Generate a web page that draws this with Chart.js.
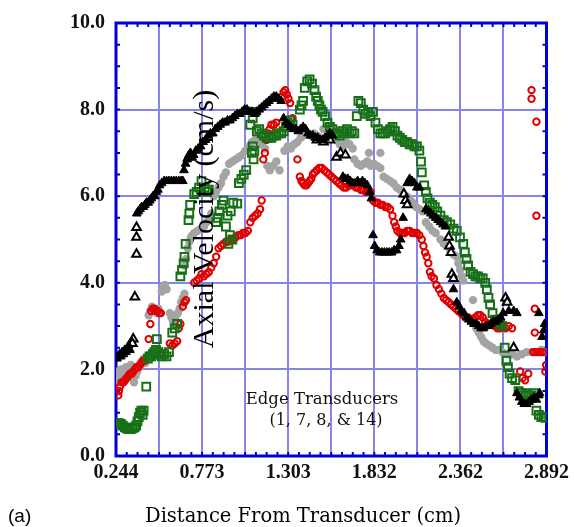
<!DOCTYPE html>
<html>
<head>
<meta charset="utf-8">
<script src="https://cdn.jsdelivr.net/npm/chart.js"></script>
<style>
  html, body { margin: 0; padding: 0; background: #fff; }
  #wrap { width: 574px; height: 527px; }
</style>
</head>
<body>
<div id="wrap"><canvas id="chart_velocity" width="574" height="527"></canvas></div>
<script>
/* axial velocity vs distance, edge transducers */

// tick positions / labels
var xGrid = [0.244, 0.5088, 0.7736, 1.0384, 1.3032, 1.568, 1.8328, 2.0976, 2.3624, 2.6272, 2.892];
var xTickLabels = ['0.244', '0.773', '1.303', '1.832', '2.362', '2.892'];

// black filled triangles
var blackX = [0.250, 0.258, 0.266, 0.274, 0.282, 0.290, 0.298, 0.306, 0.314, 0.322, 0.330,
  0.372, 0.382, 0.392, 0.402, 0.412, 0.422, 0.432, 0.442, 0.452, 0.462, 0.472, 0.482, 0.492, 0.502,
  0.512, 0.525, 0.540, 0.555, 0.570, 0.585, 0.600, 0.615, 0.630, 0.645, 0.655,
  0.662, 0.672, 0.682, 0.692, 0.702, 0.712, 0.722, 0.735, 0.750, 0.765, 0.780, 0.795, 0.810, 0.825,
  0.840, 0.855, 0.870, 0.885, 0.900, 0.915, 0.930, 0.945, 0.960, 0.975, 0.990, 1.005, 1.020, 1.035,
  1.050, 1.065, 1.080, 1.095, 1.110, 1.125, 1.140, 1.155, 1.170, 1.185, 1.200, 1.215, 1.230, 1.245, 1.260,
  1.275, 1.290, 1.305, 1.320, 1.335, 1.350, 1.365, 1.380, 1.395, 1.410, 1.425, 1.440, 1.455, 1.470,
  1.485, 1.500, 1.515, 1.530, 1.545, 1.560, 1.575,
  1.640, 1.655, 1.670, 1.685, 1.700, 1.715, 1.730, 1.745, 1.760, 1.775, 1.790, 1.805, 1.815,
  1.825, 1.835, 1.850, 1.865, 1.880, 1.895, 1.910, 1.925, 1.940, 1.955, 1.970, 1.985, 1.995, 2.010,
  2.035, 2.050, 2.065, 2.080, 2.095, 2.110,
  2.150, 2.165, 2.180, 2.195, 2.210, 2.225, 2.240, 2.255, 2.270,
  2.320, 2.340, 2.355, 2.370, 2.385, 2.400, 2.415, 2.430, 2.445, 2.460, 2.475, 2.490, 2.505, 2.520,
  2.535, 2.550, 2.565, 2.580, 2.595, 2.610, 2.625, 2.660, 2.690, 2.710,
  2.845, 2.865, 2.875, 2.880,
  2.710, 2.725, 2.740, 2.755, 2.770, 2.785, 2.800, 2.815, 2.830, 2.845, 2.850];
var blackY = [2.25, 2.30, 2.35, 2.30, 2.40, 2.35, 2.45, 2.40, 2.50, 2.55, 2.45,
  5.60, 5.65, 5.70, 5.75, 5.75, 5.80, 5.85, 5.85, 5.90, 5.95, 6.00, 6.00, 6.10, 6.15,
  6.25, 6.30, 6.35, 6.35, 6.35, 6.35, 6.35, 6.35, 6.35, 6.35, 6.35,
  6.60, 6.75, 6.85, 6.95, 7.00, 6.90, 6.95, 7.05, 7.10, 7.15, 7.25, 7.30, 7.40, 7.45,
  7.45, 7.55, 7.60, 7.65, 7.70, 7.70, 7.75, 7.75, 7.80, 7.85, 7.90, 7.90, 7.95, 8.00,
  8.00, 7.95, 7.95, 7.90, 7.95, 8.00, 8.05, 8.10, 8.15, 8.20, 8.25, 8.30, 8.30, 8.25, 8.20,
  7.80, 7.70, 7.65, 7.60, 7.55, 7.55, 7.50, 7.55, 7.60, 7.55, 7.45, 7.40, 7.40, 7.35,
  7.35, 7.30, 7.30, 7.35, 7.40, 7.45, 7.40,
  6.45, 6.40, 6.40, 6.35, 6.30, 6.30, 6.35, 6.30, 6.35, 6.30, 6.25, 6.10, 5.95,
  5.10, 4.85, 4.75, 4.70, 4.70, 4.70, 4.70, 4.70, 4.70, 4.75, 4.75, 4.85, 5.00, 5.50,
  6.30, 6.40, 6.35, 6.30, 6.20, 6.20,
  5.70, 5.65, 5.60, 5.55, 5.50, 5.45, 5.40, 5.35, 5.30,
  3.85, 3.55, 3.45, 3.35, 3.30, 3.20, 3.15, 3.10, 3.05, 3.05, 3.00, 2.95, 2.95, 3.00,
  3.00, 3.05, 3.10, 3.10, 3.15, 3.20, 3.30, 3.35, 3.35, 3.30,
  3.30, 2.75, 2.90, 3.05,
  1.45, 1.35, 1.25, 1.20, 1.20, 1.25, 1.30, 1.35, 1.30, 1.40, 1.45];

// black open triangles
var openX = [0.370, 0.360, 0.350, 0.345, 0.370, 0.370, 0.690, 1.480, 1.520, 1.560,
  1.600, 1.625, 1.655, 2.015, 2.025, 2.035, 2.290, 2.295, 2.305, 2.310, 2.320,
  2.640, 2.650, 2.690];
var openY = [4.66, 3.67, 2.70, 2.60, 5.05, 5.28, 6.90, 7.30, 7.25, 7.30,
  6.90, 7.00, 6.95, 6.05, 5.90, 5.80, 5.05, 4.85, 4.70, 4.20, 4.10,
  3.65, 3.55, 2.50];

// grey filled circles
var greyX = [0.250, 0.255, 0.265, 0.275, 0.285, 0.295, 0.305, 0.315, 0.325, 0.335, 0.345, 0.355,
  0.365, 0.375, 0.385, 0.395, 0.405, 0.415, 0.425,
  0.445, 0.455, 0.465, 0.475, 0.485, 0.495, 0.505, 0.525, 0.535, 0.545, 0.555,
  0.575, 0.585, 0.595, 0.605, 0.615, 0.625, 0.635, 0.645, 0.655, 0.665,
  0.665, 0.675, 0.685, 0.695, 0.705, 0.715, 0.725, 0.745, 0.765, 0.785, 0.800, 0.815, 0.830,
  0.845, 0.860, 0.875, 0.890, 0.905, 0.920, 0.940, 0.960, 0.980, 1.000, 1.020, 1.040, 1.060,
  1.080, 1.100, 1.120, 1.140, 1.160,
  1.175, 1.190, 1.210, 1.230, 1.250,
  1.280, 1.300, 1.320, 1.340, 1.360, 1.380, 1.400, 1.420, 1.440, 1.460, 1.480, 1.500,
  1.520, 1.540, 1.560,
  1.600, 1.620, 1.640, 1.660, 1.680, 1.700,
  1.710, 1.730, 1.750, 1.770, 1.790, 1.810, 1.830, 1.850, 1.870, 1.800, 1.870,
  1.890, 1.910, 1.930, 1.950, 1.970, 1.990, 2.010, 2.030, 2.050, 2.070, 2.090, 2.110, 2.130,
  2.150, 2.170, 2.190, 2.210, 2.240, 2.260, 2.280, 2.300, 2.320, 2.340, 2.350, 2.360, 2.370,
  2.380, 2.440,
  2.450, 2.460, 2.475, 2.490, 2.505, 2.520, 2.540, 2.560, 2.580, 2.600, 2.620, 2.650, 2.680,
  2.710, 2.740, 2.770, 2.800, 2.830, 2.860, 2.880];
var greyY = [1.70, 1.95, 1.80, 2.00, 1.75, 1.90, 2.05, 1.85, 1.95, 2.10, 1.80, 1.70,
  1.85, 1.95, 2.05, 2.10, 2.20, 2.25, 2.15,
  3.25, 3.35, 3.45, 3.40, 3.35, 3.30, 3.40, 3.80, 3.90, 3.95, 3.85,
  3.30, 3.20, 3.10, 3.15, 3.25, 3.30, 3.40, 3.55, 3.65, 3.75,
  4.40, 4.55, 4.80, 4.95, 5.05, 5.10, 5.15, 5.20, 5.25, 5.30, 5.40, 5.45, 5.60,
  6.00, 6.10, 6.20, 6.30, 6.45, 6.55, 6.75, 6.80, 6.85, 6.90, 6.95, 7.05, 7.15,
  7.25, 7.30, 7.30, 7.20, 7.10,
  6.70, 6.60, 6.70, 6.80, 6.60,
  7.05, 7.15, 7.10, 7.20, 7.25, 7.35, 7.40, 7.45, 7.40, 7.45, 7.40, 7.35,
  7.55, 7.60, 7.55,
  7.30, 7.20, 7.15, 7.25, 7.20, 7.10,
  6.85, 6.75, 6.70, 6.75, 6.80, 6.70, 6.75, 6.70, 6.65, 7.00, 7.00,
  6.45, 6.40, 6.35, 6.30, 6.20, 6.15, 6.05, 6.00, 5.95, 5.85, 5.75, 5.70, 5.65,
  5.40, 5.30, 5.20, 5.15, 5.00, 4.90, 4.85, 4.75, 4.65, 4.60, 4.45, 4.30, 4.15,
  4.05, 3.60,
  3.05, 2.95, 2.85, 2.75, 2.65, 2.60, 2.55, 2.50, 2.45, 2.45, 2.40, 2.35, 2.35,
  2.30, 2.35, 2.40, 2.40, 2.40, 2.45, 2.40];

// red open circles
var redX = [0.258, 0.262, 0.268, 0.278, 0.290, 0.300, 0.310, 0.320, 0.330, 0.340, 0.350, 0.360,
  0.370, 0.380, 0.390, 0.400, 0.410, 0.420,
  0.445, 0.455, 0.460, 0.470, 0.480, 0.490, 0.500, 0.510, 0.520,
  0.575, 0.590, 0.605, 0.620, 0.630, 0.640, 0.655, 0.665, 0.675,
  0.725, 0.740, 0.755, 0.770, 0.785, 0.800, 0.815, 0.830, 0.845, 0.860, 0.875, 0.890, 0.905,
  0.920, 0.935, 0.950, 0.965, 0.980, 0.995, 1.010, 1.025, 1.040, 1.055, 1.070, 1.085, 1.100,
  1.115, 1.130, 1.140,
  1.150, 1.160, 1.170, 1.180, 1.190, 1.200, 1.215, 1.230,
  1.265, 1.275, 1.285, 1.295, 1.305, 1.315, 1.330, 1.360,
  1.375, 1.385, 1.395, 1.405, 1.415, 1.425, 1.435, 1.445, 1.455, 1.465, 1.480, 1.495, 1.510,
  1.525, 1.540, 1.555, 1.570, 1.585, 1.600, 1.615, 1.630, 1.645, 1.660, 1.675, 1.690, 1.705,
  1.720, 1.735, 1.750, 1.765, 1.780, 1.795, 1.810,
  1.825, 1.840, 1.855, 1.870, 1.885, 1.900, 1.915, 1.930, 1.945, 1.955, 1.965, 1.975, 1.990,
  2.005, 2.020, 2.035, 2.050, 2.065, 2.080, 2.095, 2.110, 2.125, 2.135, 2.145, 2.155,
  2.165, 2.175, 2.185, 2.200, 2.215, 2.230, 2.245, 2.260, 2.275, 2.290, 2.305, 2.320, 2.335,
  2.350, 2.365, 2.380, 2.395, 2.410, 2.425, 2.440, 2.455, 2.470, 2.485, 2.500, 2.515, 2.530,
  2.545, 2.560, 2.575, 2.590, 2.605, 2.620, 2.640, 2.660, 2.680,
  2.730, 2.745, 2.760, 2.780,
  2.810, 2.825, 2.840, 2.855, 2.870, 2.885, 2.890, 2.820, 2.820,
  2.800, 2.800, 2.830, 2.830];
var redY = [1.40, 1.50, 1.60, 1.70, 1.70, 1.75, 1.80, 1.85, 1.90, 1.90, 1.95, 2.00,
  2.05, 2.05, 2.10, 2.15, 2.20, 2.20,
  2.70, 3.05, 3.35, 3.40, 3.40, 3.35, 3.35, 3.30, 3.30,
  2.60, 2.55, 2.60, 2.65, 2.95, 3.05, 3.45, 3.55, 3.60,
  4.00, 4.05, 4.10, 4.20, 4.15, 4.20, 4.25, 4.35, 4.45, 4.60, 4.80, 4.85, 4.90,
  4.95, 4.95, 5.00, 5.00, 5.05, 5.10, 5.10, 5.15, 5.15, 5.20, 5.40, 5.50, 5.55,
  5.60, 5.70, 5.90,
  6.85, 7.00, 7.30, 7.45, 7.55, 7.65, 7.65, 7.70,
  8.30, 8.40, 8.45, 8.35, 8.25, 8.15, 7.80, 6.85,
  6.45, 6.35, 6.30, 6.25, 6.25, 6.30, 6.35, 6.40, 6.50, 6.55, 6.60, 6.65, 6.65,
  6.60, 6.55, 6.50, 6.45, 6.40, 6.35, 6.30, 6.25, 6.20, 6.20, 6.25, 6.25, 6.25,
  6.20, 6.20, 6.15, 6.15, 6.10, 6.10, 6.10,
  5.90, 5.85, 5.85, 5.80, 5.80, 5.75, 5.75, 5.70, 5.55, 5.40, 5.30, 5.20, 5.15,
  5.15, 5.15, 5.20, 5.20, 5.15, 5.15, 5.15, 5.10, 5.00, 4.85, 4.70, 4.60,
  4.45, 4.25, 4.15, 4.10, 3.95, 3.85, 3.75, 3.65, 3.60, 3.55, 3.50, 3.45, 3.40,
  3.35, 3.30, 3.25, 3.20, 3.20, 3.15, 3.15, 3.20, 3.25, 3.25, 3.20, 3.10, 3.05,
  3.05, 3.05, 3.00, 2.95, 2.95, 3.00, 2.95, 3.00, 2.95,
  1.95, 1.80, 1.75, 1.90,
  2.40, 2.40, 2.40, 2.40, 2.40, 1.95, 2.10, 3.40, 2.85,
  8.45, 8.25, 7.72, 5.55];

// green open squares
var greenX = [0.250, 0.262, 0.274, 0.286, 0.298, 0.310, 0.322, 0.334, 0.346, 0.358, 0.368,
  0.376, 0.384, 0.392, 0.400, 0.408, 0.414,
  0.430, 0.440, 0.450, 0.460, 0.470, 0.480, 0.490, 0.495, 0.505, 0.515, 0.525, 0.540, 0.555,
  0.570, 0.590, 0.605, 0.620,
  0.640, 0.650, 0.660, 0.665, 0.672, 0.690, 0.695, 0.700, 0.725, 0.740, 0.755, 0.770, 0.790,
  0.805, 0.815,
  0.860, 0.870, 0.880, 0.895, 0.905, 0.920, 0.930, 0.950, 0.965, 0.945, 0.960, 0.935, 0.990,
  1.000, 1.015, 1.030, 1.045, 1.090, 1.095, 1.080, 1.085,
  1.070, 1.085, 1.100, 1.110, 1.125, 1.140, 1.155, 1.170, 1.185, 1.200, 1.215, 1.230, 1.245,
  1.260, 1.275, 1.290, 1.300, 1.315, 1.330,
  1.375, 1.385, 1.395, 1.405, 1.420, 1.435, 1.450, 1.465, 1.475, 1.485, 1.495, 1.505, 1.515,
  1.530, 1.545, 1.560, 1.575, 1.590, 1.605, 1.620, 1.635, 1.650, 1.665, 1.680, 1.695, 1.710,
  1.725, 1.735, 1.750, 1.765, 1.780, 1.795, 1.810, 1.825, 1.840, 1.855, 1.870, 1.885, 1.900,
  1.915, 1.930, 1.945, 1.960, 1.975, 1.990, 2.005, 2.020, 2.035, 2.050, 2.065, 2.080, 2.095,
  2.110, 2.120, 2.125, 2.140, 2.150, 2.160, 2.175, 2.190, 2.205, 2.220, 2.240, 2.260, 2.280,
  2.300, 2.320, 2.340, 2.360, 2.380, 2.390, 2.400, 2.410, 2.425, 2.440, 2.455, 2.470, 2.485,
  2.500, 2.515, 2.525, 2.535, 2.545, 2.560, 2.575, 2.590, 2.605, 2.620,
  2.635, 2.645, 2.655, 2.665, 2.680, 2.700, 2.720, 2.735, 2.750, 2.765, 2.780, 2.800, 2.815,
  2.830, 2.845, 2.860, 2.875, 2.885];
var greenY = [0.76, 0.76, 0.74, 0.70, 0.66, 0.64, 0.62, 0.62, 0.64, 0.66, 0.70,
  0.80, 0.90, 1.00, 1.05, 0.95, 1.05,
  1.60, 2.25, 2.30, 2.30, 2.35, 2.40, 2.45, 2.70, 2.40, 2.35, 2.30, 2.35, 2.30,
  2.40, 2.85, 2.95, 3.05,
  4.15, 4.30, 4.45, 4.60, 4.90, 5.45, 5.60, 5.80, 6.05, 6.10, 6.20, 6.35, 6.20,
  6.10, 6.15,
  5.40, 5.50, 5.65, 5.80, 5.90, 5.30, 5.55, 5.65, 5.85, 5.10, 5.00, 4.90, 5.83,
  6.30, 6.40, 6.50, 6.60, 6.85, 7.05, 7.00, 7.15,
  7.65, 7.80, 7.95, 7.50, 7.55, 7.45, 7.40, 7.35, 7.35, 7.35, 7.40, 7.40, 7.45,
  7.45, 7.50, 7.60, 7.70, 7.75, 7.65,
  8.00, 8.10, 8.20, 8.50, 8.65, 8.70, 8.60, 8.45, 8.30, 8.20, 8.10, 8.00, 7.95,
  7.85, 7.70, 7.60, 7.55, 7.45, 7.45, 7.40, 7.50, 7.45, 7.55, 7.45, 7.50, 7.45,
  7.85, 8.20, 8.15, 8.00, 7.90, 7.95, 7.85, 7.95, 7.70, 7.55, 7.45, 7.45, 7.45,
  7.50, 7.55, 7.60, 7.50, 7.40, 7.35, 7.30, 7.25, 7.25, 7.20, 7.20, 7.15, 7.15,
  7.05, 6.80, 6.55, 6.25, 6.10, 5.95, 5.85, 5.80, 5.75, 5.65, 5.55, 5.45, 5.40,
  5.35, 5.25, 5.20, 5.05, 4.90, 4.70, 4.55, 4.40, 4.25, 4.20, 4.15, 4.15, 4.10,
  4.10, 4.00, 3.85, 3.65, 3.50, 3.30, 3.15, 3.10, 3.05, 3.00,
  2.50, 2.20, 2.05, 1.90, 1.80, 1.75, 1.50, 1.45, 1.40, 1.45, 1.40, 1.40, 1.45,
  1.05, 0.95, 0.90, 0.90, 0.88];

function pts(xs, ys) {
    return xs.map(function (x, i) { return { x: x, y: ys[i] }; });
}

var BLUE = '#0000d6';
var GRID = '#8585ea';

// border, minor ticks and the texts sitting inside the plot
var framePlugin = {
    id: 'frame',
    beforeDatasetsDraw: function (chart) {
        var ctx = chart.ctx, a = chart.chartArea;
        var xs = chart.scales.x, ys = chart.scales.y;
        ctx.save();
        ctx.strokeStyle = BLUE;
        ctx.lineWidth = 2;
        for (var i = 0; i <= 40; i++) {
            var px = xs.getPixelForValue(0.244 + i * 0.0662);
            ctx.beginPath();
            ctx.moveTo(px, a.top); ctx.lineTo(px, a.top + 4);
            ctx.moveTo(px, a.bottom); ctx.lineTo(px, a.bottom - 4);
            ctx.stroke();
        }
        for (var j = 0; j <= 20; j++) {
            var py = ys.getPixelForValue(j * 0.5);
            ctx.beginPath();
            ctx.moveTo(a.left, py); ctx.lineTo(a.left + 4, py);
            ctx.moveTo(a.right, py); ctx.lineTo(a.right - 4, py);
            ctx.stroke();
        }
        ctx.lineWidth = 3;
        ctx.strokeRect(a.left, a.top, a.right - a.left, a.bottom - a.top);
        ctx.restore();
    },
    afterDatasetsDraw: function (chart) {
        var ctx = chart.ctx;
        ctx.save();
        ctx.fillStyle = '#000';
        ctx.textAlign = 'center';
        ctx.textBaseline = 'alphabetic';
        ctx.translate(213, 219);
        ctx.rotate(-Math.PI / 2);
        ctx.font = '30px "Liberation Serif", serif';
        ctx.fillText('Axial Velocity (cm/s)', 0, 0);
        ctx.restore();

        ctx.save();
        ctx.fillStyle = '#111';
        ctx.textAlign = 'center';
        ctx.font = '16.5px "DejaVu Serif", serif';
        ctx.fillText('Edge Transducers', 322, 404);
        ctx.font = '16px "DejaVu Serif", serif';
        ctx.fillText('(1, 7, 8, & 14)', 326, 425);
        ctx.fillStyle = '#000';
        ctx.font = '19.5px "DejaVu Serif", serif';
        ctx.fillText('Distance From Transducer (cm)', 303, 522);
        ctx.textAlign = 'left';
        ctx.font = '19px "Liberation Sans", sans-serif';
        ctx.fillText('(a)', 8, 522);
        ctx.restore();
    }
};

var tickFont = { family: '"Liberation Serif", serif', weight: 'bold', size: 20 };

var ctx1 = document.getElementById('chart_velocity').getContext('2d');
var velChart = new Chart(ctx1, {
    type: 'scatter',
    data: {
        datasets: [
            {
                label: 'black',
                data: pts(blackX, blackY),
                pointStyle: 'triangle',
                pointRadius: 5,
                backgroundColor: '#000',
                borderColor: '#000',
                borderWidth: 1
            },
            {
                label: 'black open',
                data: pts(openX, openY),
                pointStyle: 'triangle',
                pointRadius: 5,
                backgroundColor: '#fff',
                borderColor: '#000',
                borderWidth: 2
            },
            {
                label: 'green',
                data: pts(greenX, greenY),
                pointStyle: 'rect',
                pointRadius: 5.5,
                backgroundColor: 'rgba(255,255,255,0)',
                borderColor: '#177017',
                borderWidth: 2
            },
            {
                label: 'red',
                data: pts(redX, redY),
                pointStyle: 'circle',
                pointRadius: 3.2,
                backgroundColor: 'rgba(255,255,255,0)',
                borderColor: '#e00000',
                borderWidth: 2
            },
            {
                label: 'grey',
                data: pts(greyX, greyY),
                pointStyle: 'circle',
                pointRadius: 4.2,
                backgroundColor: '#a4a4a4',
                borderColor: '#a4a4a4',
                borderWidth: 0
            }
        ]
    },
    options: {
        responsive: false,
        animation: false,
        events: [],
        layout: { padding: { top: 22, right: 27, left: 0, bottom: 0 } },
        plugins: {
            legend: { display: false },
            tooltip: { enabled: false }
        },
        scales: {
            x: {
                type: 'linear',
                min: 0.244,
                max: 2.892,
                afterBuildTicks: function (scale) {
                    scale.ticks = xGrid.map(function (v) { return { value: v }; });
                },
                afterFit: function (scale) { scale.height = 71; },
                ticks: {
                    autoSkip: false,
                    maxRotation: 0,
                    padding: 5,
                    color: '#111',
                    font: tickFont,
                    callback: function (v, i) { return i % 2 === 0 ? xTickLabels[i / 2] : ''; }
                },
                grid: { color: GRID, lineWidth: 2, drawTicks: false },
                border: { display: false }
            },
            y: {
                min: 0,
                max: 10,
                afterFit: function (scale) { scale.width = 116; },
                ticks: {
                    stepSize: 2,
                    padding: 11,
                    color: '#111',
                    font: tickFont,
                    callback: function (v) { return v.toFixed(1); }
                },
                grid: { color: GRID, lineWidth: 2, drawTicks: false },
                border: { display: false }
            }
        }
    },
    plugins: [framePlugin]
});
</script>
</body>
</html>
